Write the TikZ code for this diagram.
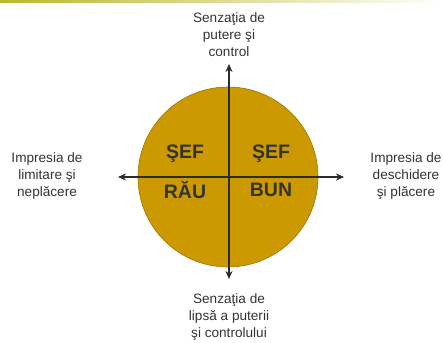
\documentclass[tikz,border=0pt]{standalone}
\usepackage{fontspec}
\setmainfont{Liberation Sans}
\usetikzlibrary{arrows.meta}
\definecolor{gold}{HTML}{CC9900}
\definecolor{goldedge}{HTML}{9A7500}
\definecolor{ink}{HTML}{2B2B2B}
\definecolor{txt}{HTML}{333333}
\begin{document}
\begin{tikzpicture}[x=1pt,y=-1pt,
  lbl/.style={font=\fontsize{13.6}{17}\selectfont, text=txt, align=center, inner sep=0pt},
  quad/.style={font=\fontsize{19.5}{22}\selectfont\bfseries, text=txt, inner sep=0pt},
  axis/.style={draw=ink, line width=1.3pt, {Stealth[length=8pt,width=7pt]}-{Stealth[length=8pt,width=7pt]}}]
\useasboundingbox (0,0) rectangle (443,342);
\shade[left color=olive!55!white, right color=white] (0,0) rectangle (443,2.5);
\node[circle, minimum size=180pt, fill=gold, draw=goldedge, line width=0.6pt, inner sep=0pt] (disc) at (228,177) {};
\coordinate (top) at (229,64);
\coordinate (bot) at (229,279);
\coordinate (lft) at (118,177);
\coordinate (rgt) at (344,177);
\draw[axis] (top) -- (bot);
\draw[axis] (lft) -- (rgt);
\node[lbl] (tt) at (229,35) {Senzaţia de\\putere şi\\control};
\node[lbl] (bt) at (229,317) {Senzaţia de\\lipsă a puterii\\şi controlului};
\node[lbl] (lt) at (47,176) {Impresia de\\limitare şi\\neplăcere};
\node[lbl] (rt) at (406,176) {Impresia de\\deschidere\\şi plăcere};
\node[quad] (q1) at (185,154) {ŞEF};
\node[quad] (q2) at (271,154) {ŞEF};
\node[quad] (q3) at (185,190) {RĂU};
\node[quad] (q4) at (271,190) {BUN};
\end{tikzpicture}
\end{document}
